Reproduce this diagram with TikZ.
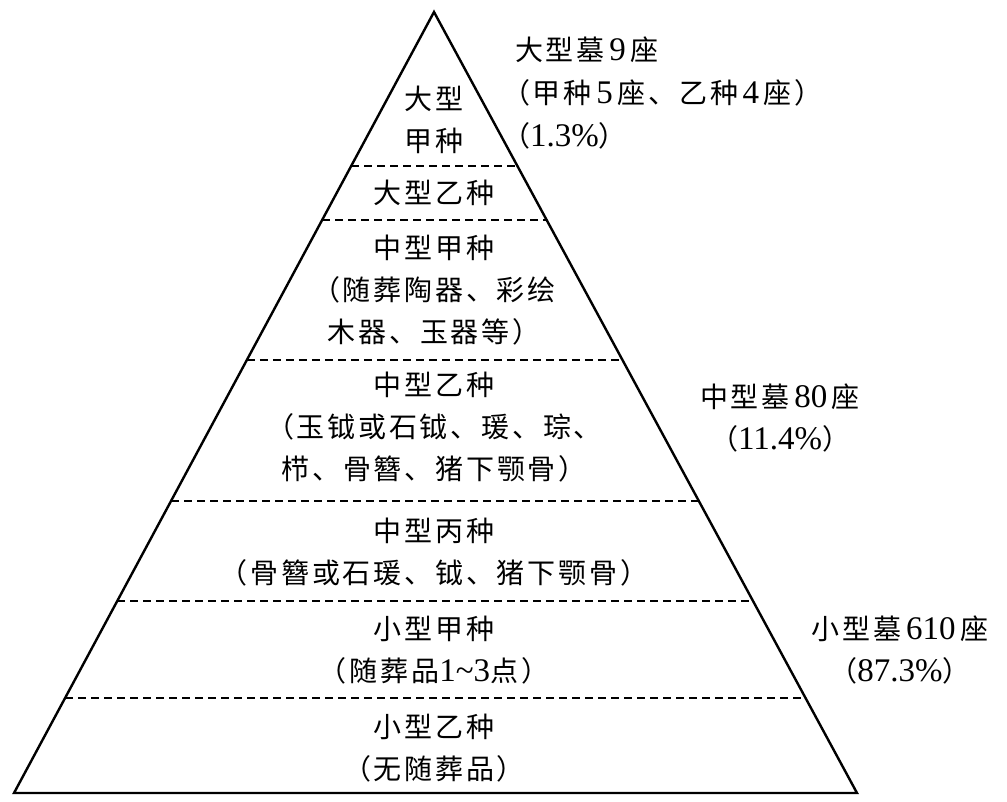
\documentclass[tikz,border=0pt]{standalone}
\usepackage{fontspec}
\setmainfont{Liberation Serif}
\newfontfamily\cjk{Noto Sans CJK SC}[LetterSpace=10]
\usetikzlibrary{calc}
\newcommand{\C}[1]{{\cjk #1}}
\newcommand{\N}[1]{{\fontsize{33}{42}\selectfont #1}}
\newcommand{\LP}{\hspace{-13pt}\C{（}}
\tikzset{
  lbl/.style={font=\fontsize{28}{42}\selectfont, align=center, inner sep=0pt},
  lbll/.style={font=\fontsize{28}{43}\selectfont, align=left, inner sep=0pt, anchor=west},
  edge/.style={line width=2.4pt, line join=miter},
  sep/.style={line width=2.8pt, dash pattern=on 8pt off 5pt}
}
\begin{document}
\begin{tikzpicture}[x=1pt,y=-1pt]
\useasboundingbox (0,0) rectangle (1007,801);
\coordinate (apex) at (434,12);
\coordinate (bl) at (14,793);
\coordinate (br) at (857,793);
\draw[edge] (apex) -- (bl) -- (br) -- cycle;
\foreach \t/\n in {0.19718/a,0.26633/b,0.44558/c,0.62612/d,0.75416/e,0.87836/f}{
  \coordinate (L\n) at ($(apex)!\t!(bl)$);
  \coordinate (R\n) at ($(apex)!\t!(br)$);
  \draw[sep] (L\n) -- (R\n);
}
\node[lbl] (n1) at (434,120) {\C{大型}\\\C{甲种}};
\node[lbl] (n2) at (434,193) {\C{大型乙种}};
\node[lbl] (n3) at (434,290) {\C{中型甲种}\\\C{（随葬陶器、彩绘}\\\C{木器、玉器等）}};
\node[lbl] (n4) at (434,427) {\C{中型乙种}\\\C{（玉钺或石钺、瑗、琮、}\\\C{栉、骨簪、猪下颚骨）}};
\node[lbl] (n5) at (434,552) {\C{中型丙种}\\\C{（骨簪或石瑗、钺、猪下颚骨）}};
\node[lbl] (n6) at (434,650) {\C{小型甲种}\\\C{（随葬品}\N{1\textasciitilde 3}\C{点）}};
\node[lbl] (n7) at (434,748) {\C{小型乙种}\\\C{（无随葬品）}};
\node[lbll] (r1) at (515,93) {\C{大型墓}\,\N{9}\,\C{座}\\\LP\C{甲种}\,\N{5}\,\C{座、乙种}\,\N{4}\,\C{座）}\\\LP\N{1.3\%}\C{）}};
\node[lbl] (r2) at (780,418) {\C{中型墓}\,\N{80}\,\C{座}\\\C{（}\N{11.4\%}\C{）}};
\node[lbl] (r3) at (900,650) {\C{小型墓}\,\N{610}\,\C{座}\\\C{（}\N{87.3\%}\C{）}};
\end{tikzpicture}
\end{document}
